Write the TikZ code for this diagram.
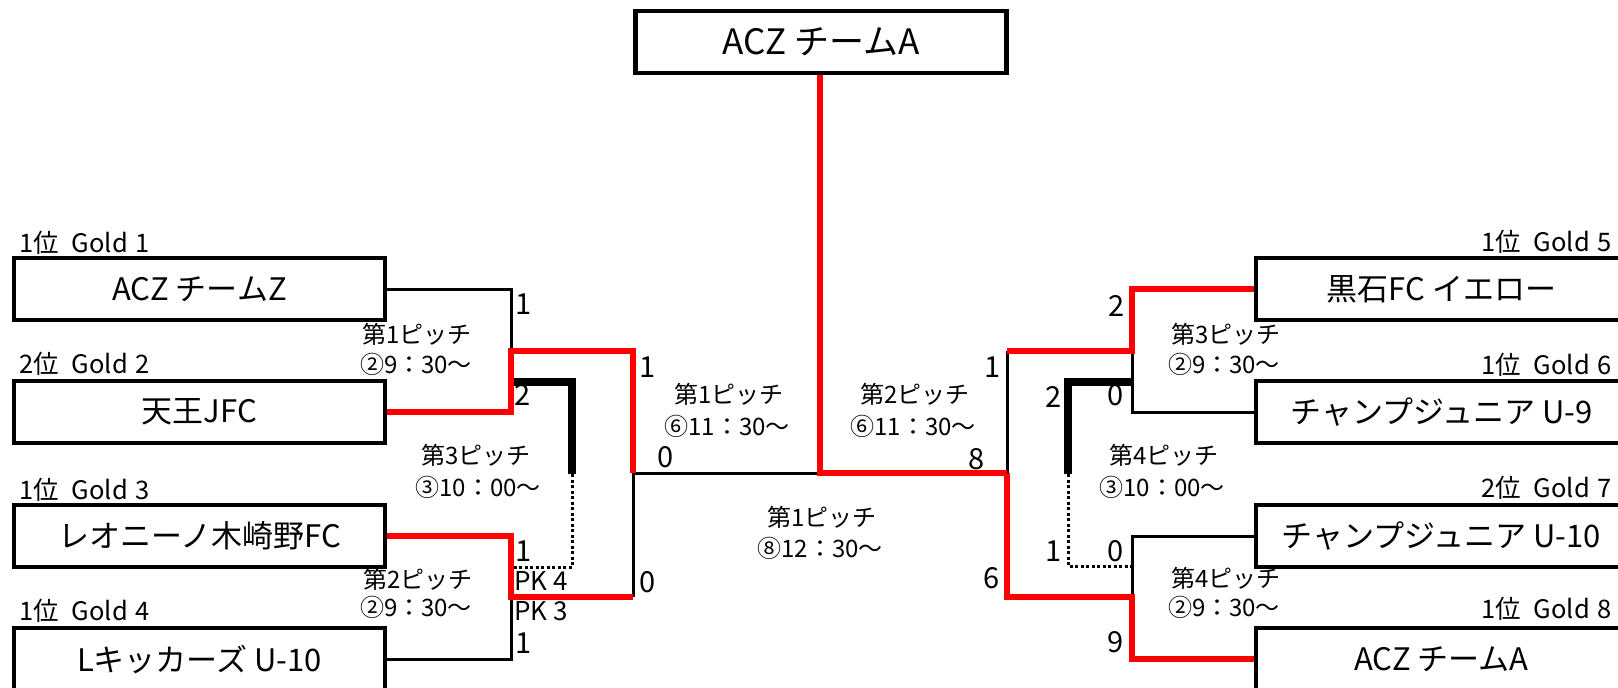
\documentclass[tikz,border=0pt]{standalone}
\usepackage{fontspec}
\setmainfont{Noto Sans CJK JP}
\begin{document}
\begin{tikzpicture}[x=1pt,y=-1pt,
  team/.style={draw,line width=4.5pt,fill=white,minimum width=371pt,minimum height=62pt,inner sep=0pt,outer sep=0pt,font=\fontsize{31}{36}\selectfont},
  seed/.style={anchor=west,inner sep=0pt,font=\fontsize{25.5}{30}\selectfont},
  pitch/.style={inner sep=0pt,font=\fontsize{24}{28}\selectfont},
  score/.style={inner sep=0pt,font=\fontsize{29}{34}\selectfont},
  pk/.style={anchor=west,inner sep=0pt,font=\fontsize{26}{30}\selectfont},
  thinline/.style={line width=3pt},
  win/.style={line width=6pt,red},
  thirdline/.style={line width=7.5pt},
  loseline/.style={line width=3pt,dash pattern=on 3pt off 2.5pt}]
\useasboundingbox (0,0) rectangle (1618,688);
\fill[white] (0,0) rectangle (1618,688);
\clip (0,0) rectangle (1618,688);

% team boxes
\node[team] (T)  at (821,42)    {\fontsize{35}{40}\selectfont ACZ チームA};
\node[team] (L1) at (199.5,289) {ACZ チームZ};
\node[team] (L2) at (199.5,412) {天王JFC};
\node[team] (L3) at (199.5,536) {レオニーノ木崎野FC};
\node[team] (L4) at (199.5,659) {Lキッカーズ U-10};
\node[team] (R5) at (1441.5,289) {黒石FC イエロー};
\node[team] (R6) at (1441.5,412) {チャンプジュニア U-9};
\node[team] (R7) at (1441.5,536) {チャンプジュニア U-10};
\node[team] (R8) at (1441.5,659) {ACZ チームA};

% junctions
\coordinate (a1) at (511,351);
\coordinate (a2) at (511,597);
\coordinate (s1) at (633,473);
\coordinate (f)  at (820,473);
\coordinate (s2) at (1007,473);
\coordinate (b1) at (1132,351);
\coordinate (b2) at (1132,597);
\coordinate (c1) at (511,382);
\coordinate (t1) at (572,474);
\coordinate (c2) at (511,567);
\coordinate (d1) at (1132,382);
\coordinate (t2) at (1068,474);
\coordinate (d2) at (1132,566);

% thin black connectors
\draw[thinline] (L1.east) -| (a1);
\draw[thinline] (L4.east) -| (a2);
\draw[thinline] (a2 -| s1) -- (s1);
\draw[thinline] (s1) -- (f);
\draw[thinline] (s2) -- (b1 -| s2);
\draw[thinline] (R6.west) -| (b1);
\draw[thinline] (R7.west) -| (b2);

% third place
\draw[loseline] (t1) |- (c2);
\draw[loseline] (t2) |- (d2);
\draw[thirdline] (c1) -| (t1);
\draw[thirdline] (d1) -| (t2);

% winners
\draw[win] (L2.east) -| (a1) -| (s1);
\draw[win] (L3.east) -| (a2) -- (a2 -| s1);
\draw[win] (T.south -| f) -- (f) -- (s2);
\draw[win] (b1 -| s2) -- (b1) |- (R5.west);
\draw[win] (s2) |- (b2) |- (R8.west);

% redraw boxes on top
\node[team] at (T)  {\fontsize{35}{40}\selectfont ACZ チームA};
\node[team] at (L1) {ACZ チームZ};
\node[team] at (L2) {天王JFC};
\node[team] at (L3) {レオニーノ木崎野FC};
\node[team] at (L4) {Lキッカーズ U-10};
\node[team] at (R5) {黒石FC イエロー};
\node[team] at (R6) {チャンプジュニア U-9};
\node[team] at (R7) {チャンプジュニア U-10};
\node[team] at (R8) {ACZ チームA};

% seed labels
\node[seed] (g1) at (19,243)   {1位\hspace{13pt}Gold\hspace{8pt}1};
\node[seed] (g2) at (19,364)   {2位\hspace{13pt}Gold\hspace{8pt}2};
\node[seed] (g3) at (19,490)   {1位\hspace{13pt}Gold\hspace{8pt}3};
\node[seed] (g4) at (19,611)   {1位\hspace{13pt}Gold\hspace{8pt}4};
\node[seed] (g5) at (1481,242) {1位\hspace{13pt}Gold\hspace{8pt}5};
\node[seed] (g6) at (1481,365) {1位\hspace{13pt}Gold\hspace{8pt}6};
\node[seed] (g7) at (1481,488) {2位\hspace{13pt}Gold\hspace{8pt}7};
\node[seed] (g8) at (1481,609) {1位\hspace{13pt}Gold\hspace{8pt}8};

% pitch labels
\node[pitch] (p1a) at (417,334) {第1ピッチ};
\node[pitch] (p1b) at (416,364) {②9：30～};
\node[pitch] (p3a) at (476,455) {第3ピッチ};
\node[pitch] (p3b) at (478,487) {③10：00～};
\node[pitch] (p2a) at (418,579) {第2ピッチ};
\node[pitch] (p2b) at (416,607) {②9：30～};
\node[pitch] (q1a) at (729,394) {第1ピッチ};
\node[pitch] (q1b) at (727,426) {⑥11：30～};
\node[pitch] (q2a) at (915,394) {第2ピッチ};
\node[pitch] (q2b) at (913,426) {⑥11：30～};
\node[pitch] (fa)  at (822,517) {第1ピッチ};
\node[pitch] (fb)  at (820,548) {⑧12：30～};
\node[pitch] (r3a) at (1226,334) {第3ピッチ};
\node[pitch] (r3b) at (1224,364) {②9：30～};
\node[pitch] (r4a) at (1164,455) {第4ピッチ};
\node[pitch] (r4b) at (1162,487) {③10：00～};
\node[pitch] (r5a) at (1226,578) {第4ピッチ};
\node[pitch] (r5b) at (1224,607) {②9：30～};

% scores
\node[score] at (524,304) {1};
\node[score] at (523,395) {2};
\node[score] at (648,367) {1};
\node[score] at (666,457) {0};
\node[score] at (524,551) {1};
\node[pk]    at (514,581) {PK 4};
\node[pk]    at (514,611) {PK 3};
\node[score] at (524,643) {1};
\node[score] at (648,582) {0};
\node[score] at (977,459) {8};
\node[score] at (993,367) {1};
\node[score] at (992,578) {6};
\node[score] at (1117,306) {2};
\node[score] at (1116,395) {0};
\node[score] at (1054,397) {2};
\node[score] at (1054,551) {1};
\node[score] at (1116,551) {0};
\node[score] at (1116,642) {9};
\end{tikzpicture}
\end{document}
